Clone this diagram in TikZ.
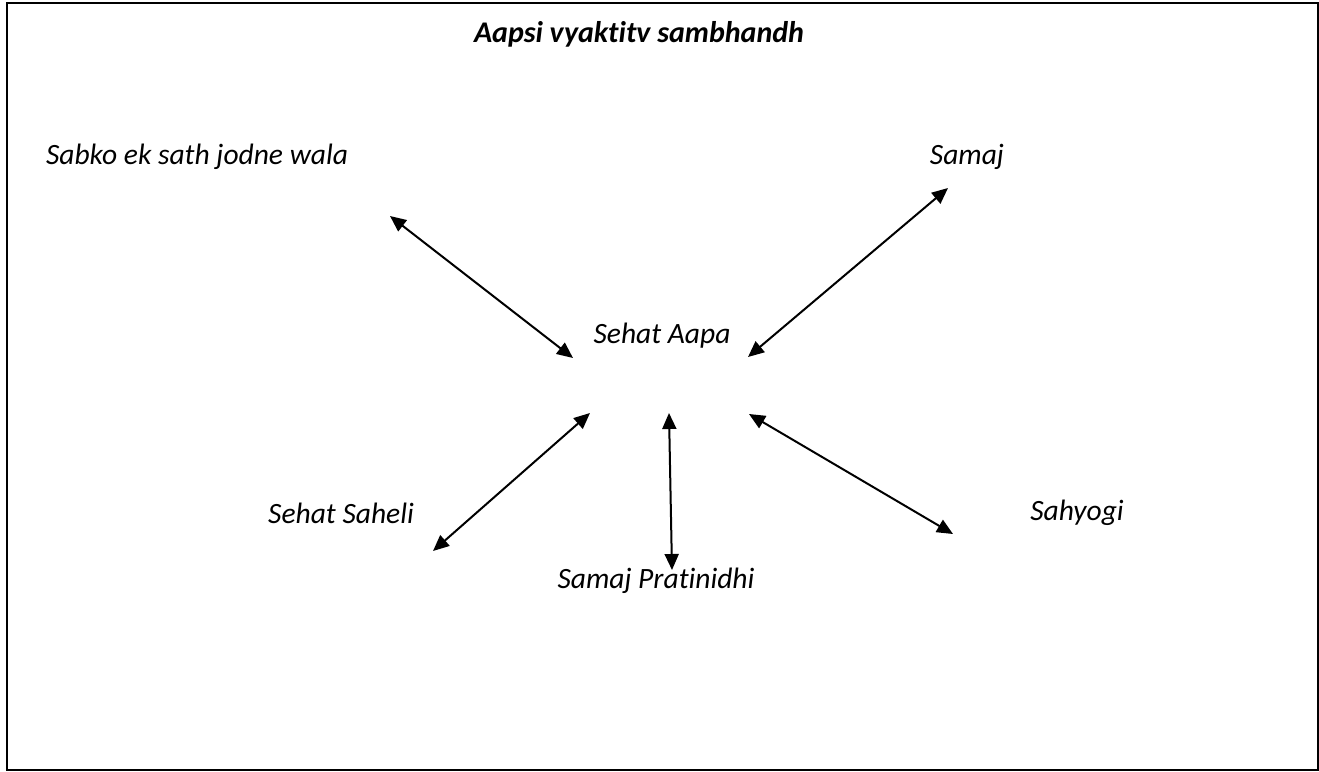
\documentclass[tikz,border=0pt]{standalone}
\usepackage{fontspec}
\setmainfont{Carlito}[Ligatures=NoCommon]
\usetikzlibrary{arrows.meta}

\begin{document}
\begin{tikzpicture}[x=1pt, y=-1pt,
    label/.style={font=\fontsize{29.5}{34}\selectfont\itshape, inner sep=0pt},
    link/.style={{Triangle[length=16pt,width=14pt]}-{Triangle[length=16pt,width=14pt]}, line width=2pt}]

  \useasboundingbox (0,0) rectangle (1319,771);
  \draw[line width=2pt] (7,3) rectangle (1318,770);

  % Title
  \node[label, font=\fontsize{30}{35}\selectfont\bfseries\itshape] (title) at (639,34) {Aapsi vyaktitv sambhandh};

  % Labels
  \node[label] (aapa) at (662,336) {Sehat Aapa};
  \node[label] (sabko) at (197,157) {Sabko ek sath jodne wala};
  \node[label] (samaj) at (967,157) {Samaj};
  \node[label] (saheli) at (341,513) {Sehat Saheli};
  \node[label] (prati) at (656,581) {Samaj Pratinidhi};
  \node[label] (sahyogi) at (1077,513) {Sahyogi};

  % Arrow ends
  \foreach \n/\x/\y in {a1/390/216, b1/573/358, a2/948/188, b2/748/357,
                        a3/590/413, b3/433/551, a4/669/413, b4/672/570,
                        a5/749/414, b5/953/534} {
    \coordinate (\n) at (\x,\y);
  }

  % Arrows
  \foreach \i in {1,...,5} {
    \draw[link] (a\i) -- (b\i);
  }
\end{tikzpicture}
\end{document}
